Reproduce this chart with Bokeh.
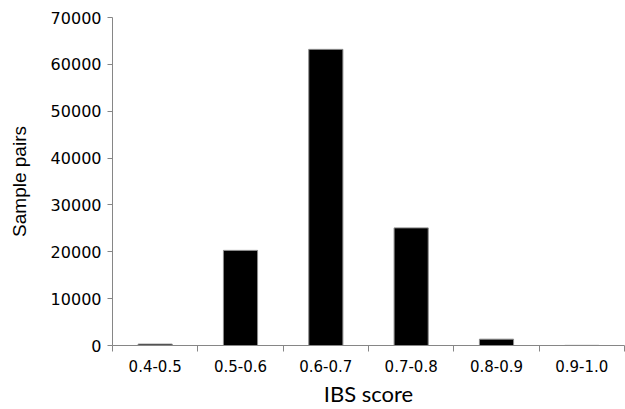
from bokeh.plotting import figure
from bokeh.models import Range1d, FixedTicker, ColumnDataSource
from bokeh.embed import file_html
from bokeh.resources import INLINE

categories = ["0.4-0.5", "0.5-0.6", "0.6-0.7", "0.7-0.8", "0.8-0.9", "0.9-1.0"]
sample_pairs = [300, 20300, 63200, 25100, 1350, 30]
y_ticks = [0, 10000, 20000, 30000, 40000, 50000, 60000, 70000]

centers = [i + 0.5 for i in range(len(categories))]
src = ColumnDataSource(dict(x=centers, top=sample_pairs, cat=categories))

p = figure(width=625, height=409, output_backend="svg", toolbar_location=None,
           x_range=Range1d(0, len(categories)), y_range=Range1d(0, 70000),
           min_border_left=112, min_border_right=1, min_border_top=17, min_border_bottom=64)
p.vbar(x="x", top="top", width=0.4, bottom=0, source=src,
       fill_color="black", line_color="#8c8c8c", line_width=1)

p.outline_line_color = None
p.grid.visible = False
p.background_fill_color = "white"
p.border_fill_color = "white"

axis_grey = "#868686"
xa = p.xaxis[0]
xa.ticker = FixedTicker(ticks=centers, minor_ticks=list(range(len(categories) + 1)))
xa.major_label_overrides = {c: lab for c, lab in zip(centers, categories)}
xa.major_tick_out = 0
xa.major_tick_in = 0
xa.minor_tick_out = 6
xa.minor_tick_in = 0
xa.minor_tick_line_color = axis_grey
xa.axis_line_color = axis_grey
xa.major_label_text_font = "DejaVu Sans"
xa.major_label_text_font_size = "15px"
xa.major_label_text_color = "black"
xa.major_label_standoff = 8
xa.axis_label = "IBS score"
xa.axis_label_text_font = "Lato"
xa.axis_label_text_font_style = "normal"
xa.axis_label_text_font_size = "22px"
xa.axis_label_text_color = "black"
xa.axis_label_standoff = 5

ya = p.yaxis[0]
ya.ticker = FixedTicker(ticks=y_ticks, minor_ticks=[])
ya.major_tick_out = 5
ya.major_tick_in = 0
ya.major_tick_line_color = axis_grey
ya.axis_line_color = axis_grey
ya.major_label_text_font = "DejaVu Sans"
ya.major_label_text_font_size = "16px"
ya.major_label_text_color = "black"
ya.major_label_standoff = 6
ya.axis_label = "Sample pairs"
ya.axis_label_text_font = "Liberation Sans"
ya.axis_label_text_font_style = "normal"
ya.axis_label_text_font_size = "19px"
ya.axis_label_text_color = "black"
ya.axis_label_standoff = 18

open("out.html", "w").write(file_html(p, INLINE))
